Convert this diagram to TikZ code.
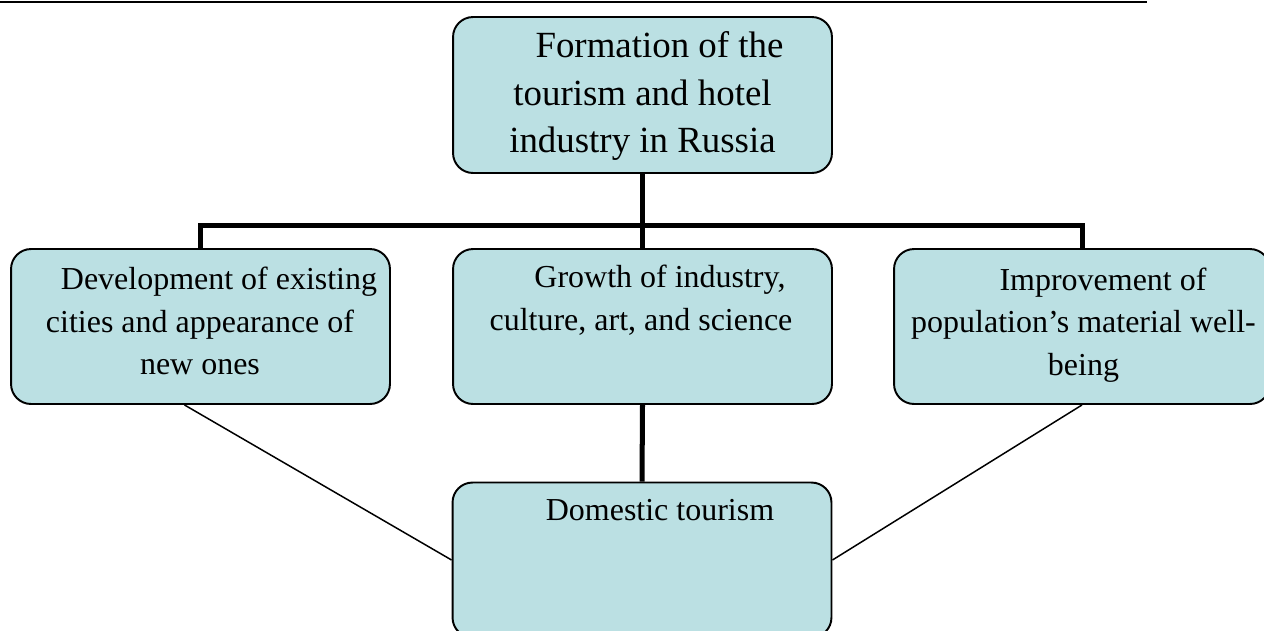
\documentclass[tikz,border=0pt]{standalone}
\usepackage{fontspec}
\setmainfont{Liberation Serif}
\definecolor{boxfill}{RGB}{187,224,227}

\begin{document}
\begin{tikzpicture}[x=0.02cm,y=-0.02cm,
  box/.style={draw, line width=1.1pt, fill=boxfill, rounded corners=0.4cm,
    minimum width=7.58cm, minimum height=3.1cm},
  bigtext/.style={align=center, inner sep=0pt, font=\fontsize{21}{27.3}\selectfont},
  smalltext/.style={align=center, inner sep=0pt, font=\fontsize{18.2}{24.2}\selectfont},
  fat/.style={line width=2.85pt},
  slim/.style={line width=0.85pt}]
\useasboundingbox (0,0) rectangle (1264,630);
\clip (0,0) rectangle (1264,630);
\draw [line width=1.2pt] (0,2) -- (1147,2);
% boxes
\node [box, minimum height=3.12cm] (form) at (642.5,95) {};
\node [box] (dev) at (200.5,326.5) {};
\node [box] (grow) at (642.5,326.5) {};
\node [box, minimum width=7.52cm] (wel) at (1082,326.5) {};
\node [box] (dom) at (642,560) {};
% texts
\node [bigtext] (formtxt) at (642.5,96) {\hspace*{0.68cm}Formation of the\\tourism and hotel\\industry in Russia};
\node [smalltext] (devtxt) at (200,321) {\hspace*{0.76cm}Development of existing\\cities and appearance of\\new ones};
\node [smalltext] (growtxt) at (641,300) {\hspace*{0.76cm}Growth of industry,\\culture, art, and science};
\node [smalltext] (weltxt) at (1083.5,325) {\hspace*{0.78cm}Improvement of\\population’s material well-\\being};
\node [smalltext, anchor=base] (domtxt) at (660,520) {Domestic tourism};
% connectors
\coordinate (bar) at (642.5,225);
\draw [fat] (form.south) -- (grow.north);
\draw [fat] (dev.north) |- (bar) -| (wel.north);
\draw [fat] (grow.south) -- (dom.north);
\draw [slim] ([xshift=-0.32cm]dev.south) -- (dom.west);
\draw [slim] (wel.south) -- (dom.east);
\end{tikzpicture}
\end{document}
